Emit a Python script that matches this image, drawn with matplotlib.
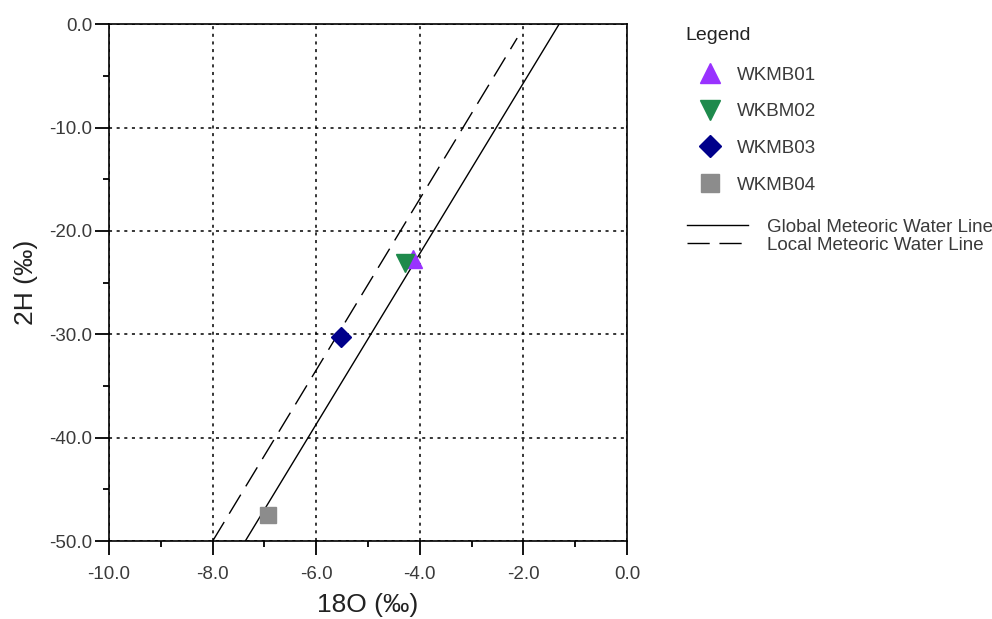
import matplotlib.pyplot as plt
from matplotlib.lines import Line2D
from matplotlib.ticker import MultipleLocator, FormatStrFormatter

plt.rcParams['font.family'] = ['Liberation Sans', 'DejaVu Sans']

# sample points (18O, 2H)
samples = ['WKMB01', 'WKBM02', 'WKMB03', 'WKMB04']
d18o = [-4.13, -4.29, -5.52, -6.93]
d2h = [-22.7, -23.1, -30.3, -47.5]
markers = ['^', 'v', 'D', 's']
colors = ['#9932ff', '#1e8a4c', '#00008b', '#8c8c8c']
sizes = [12.5, 12.5, 10.5, 12]

# water lines, end points as drawn
line_labels = ['Global Meteoric Water Line', 'Local Meteoric Water Line']
gmwl_x = [-7.37, -1.31]
gmwl_y = [-50.0, 0.0]
lmwl_x = [-8.0, -2.12]
lmwl_y = [-50.0, -1.35]

txt_col = '#3a3a3a'
dash = (16, 7)

fig = plt.figure(figsize=(9.92, 6.19), dpi=100)
ax = fig.add_axes([0.110, 0.126, 0.522, 0.835])

ax.plot(gmwl_x, gmwl_y, color='black', lw=1.0)
ax.plot(lmwl_x, lmwl_y, color='black', lw=1.0, dashes=dash)

for x, y, m, c, s in zip(d18o, d2h, markers, colors, sizes):
    ax.plot(x, y, marker=m, color=c, ms=s, ls='none', zorder=3)

ax.set_xlim(-10, 0)
ax.set_ylim(-50, 0)
ax.xaxis.set_major_locator(MultipleLocator(2))
ax.xaxis.set_minor_locator(MultipleLocator(1))
ax.yaxis.set_major_locator(MultipleLocator(10))
ax.yaxis.set_minor_locator(MultipleLocator(5))
ax.xaxis.set_major_formatter(FormatStrFormatter('%.1f'))
ax.yaxis.set_major_formatter(FormatStrFormatter('%.1f'))
ax.tick_params(which='major', direction='out', length=10, width=1.3,
               labelsize=13.5, colors='black', labelcolor=txt_col)
ax.tick_params(axis='x', which='major', pad=8)
ax.tick_params(axis='y', which='major', pad=2)
ax.tick_params(which='minor', direction='out', length=4, width=1.3)
for sp in ax.spines.values():
    sp.set_linewidth(1.2)
ax.grid(True, which='major', color='black', lw=1.1, ls=(0, (2, 3)))

ax.set_xlabel('18O (‰)', fontsize=19, labelpad=7, color='#222222')
ax.set_ylabel('2H (‰)', fontsize=19, labelpad=8, color='#222222')

# legend
fig.text(685 / 992, 1 - 35 / 619, 'Legend', fontsize=14, va='center',
         ha='left', color='#222222')

mk_handles = [Line2D([], [], marker=m, color=c, ms=s * 1.1, ls='none')
              for m, c, s in zip(markers, colors, sizes)]
leg1 = fig.legend(mk_handles, samples, loc='upper left',
                  bbox_to_anchor=(0.6976, 0.8985), frameon=False,
                  fontsize=13.5, labelspacing=1.04, handlelength=1.5,
                  handletextpad=0.69, borderpad=0.2, borderaxespad=0)
for t in leg1.get_texts():
    t.set_color(txt_col)

ln_handles = [Line2D([], [], color='black', lw=1.0),
              Line2D([], [], color='black', lw=1.0, dashes=dash)]
leg2 = fig.legend(ln_handles, line_labels,
                  loc='upper left', bbox_to_anchor=(0.6887, 0.6530), frameon=False,
                  fontsize=13.5, labelspacing=0.06, handlelength=3.25,
                  handletextpad=1.0, borderpad=0.2, borderaxespad=0)
for t in leg2.get_texts():
    t.set_color(txt_col)

fig.savefig('out.png', dpi=100)
